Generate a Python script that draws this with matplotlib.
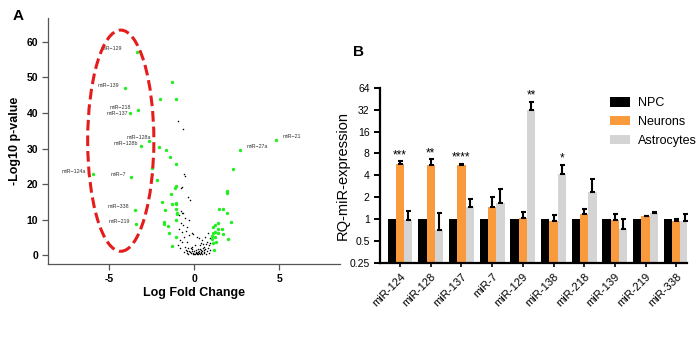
import numpy as np
import matplotlib
matplotlib.use('Agg')
import matplotlib.pyplot as plt
import matplotlib.transforms as mtrans
from matplotlib.patches import Ellipse, Patch

plt.rcParams['font.family'] = ['Liberation Sans', 'DejaVu Sans']
plt.rcParams['axes.unicode_minus'] = False

# ── Panel A data: volcano plot ─────────────────────────────────────
lab_names = ['miR\u2212129', 'miR\u2212139', 'miR\u2212218', 'miR\u2212137', 'miR\u2212128a',
             'miR\u2212128b', 'miR\u2212124a', 'miR\u22127', 'miR\u2212338', 'miR\u2212219',
             'miR\u221221', 'miR\u221227a']
lab_fc = [-3.35, -4.06, -3.31, -3.76, -2.68, -3.11, -5.98, -3.70, -3.47, -3.45, 4.83, 2.68]
lab_p = [57.3, 47.0, 40.8, 40.1, 32.1, 30.7, 22.7, 21.9, 12.7, 8.6, 32.4, 29.7]

green_fc = [-1.34, -2.03, -1.08, -2.09, -1.66, -1.42, -1.08, -2.49, -2.21, 2.27,
            -1.10, -1.16, -1.36, -1.91, -1.30, -1.08, -1.72, -1.08, -1.04, -1.79,
            -1.78, -1.57, -1.07, -1.48, -1.08, -1.30, 1.92, 1.95, 1.48, 1.72,
            1.95, 2.17, 1.38, 1.22, 1.12, 1.66, 1.40, 1.24, 1.09, 1.38,
            1.72, 1.05, 1.21, 1.99, 1.03, 1.30, 1.12, 1.18, -1.05, -1.0]
green_p = [48.7, 43.9, 44.0, 30.3, 29.7, 27.6, 25.5, 24.4, 21.0, 24.3,
           19.4, 18.8, 17.3, 14.8, 14.4, 14.4, 12.6, 12.9, 11.5, 9.4,
           8.7, 8.1, 9.9, 6.1, 5.2, 2.6, 18.0, 17.5, 13.0, 13.0,
           11.9, 9.2, 9.1, 8.4, 8.0, 7.4, 7.2, 6.6, 6.2, 6.1,
           5.8, 5.4, 5.1, 4.5, 4.4, 3.6, 3.5, 1.4, 14.6, 11.8]

black_fc = [-0.96, -0.67, -0.59, -0.55, -0.77, -0.36, -0.24, -0.80, -0.73, -0.65,
            -0.89, -0.55, -0.33, -0.80, -0.65, -0.45, -0.15, -0.09, -0.30, -0.61,
            -0.85, -0.73, -0.45, 0.14, 0.30, 0.44, 0.63, 0.73, 0.83, 0.93,
            0.89, 0.53, 0.36, 0.04, -0.15, -0.36, -0.55, -0.85, -0.95, -0.30,
            -0.25, -0.20, -0.15, -0.10, -0.05, 0.00, 0.00, 0.05, 0.08, 0.10,
            0.12, 0.15, 0.18, 0.20, 0.22, 0.25, 0.28, 0.30, 0.33, 0.35,
            0.38, 0.40, 0.42, 0.45, 0.48, 0.50, 0.55, 0.58, 0.60, 0.65,
            0.70, 0.75, 0.80, 0.85, -0.20, -0.40, -0.45, -0.50, -0.60, -0.35,
            -0.12, 0.90, 0.95, 0.60, 0.70, 0.40, -0.70, -0.50, -0.90, -0.71]
black_p = [37.8, 35.6, 22.8, 22.3, 18.8, 16.4, 15.4, 12.5, 11.9, 11.7,
           11.3, 10.3, 9.9, 8.9, 8.5, 8.0, 6.1, 6.0, 5.6, 5.2,
           4.2, 3.7, 3.7, 5.2, 4.7, 4.2, 5.2, 3.7, 6.1, 4.7,
           2.8, 3.1, 2.8, 2.8, 2.3, 1.9, 2.3, 1.9, 2.8, 1.2,
           0.8, 0.5, 1.0, 0.3, 0.7, 0.4, 1.1, 0.2, 0.6, 1.4,
           0.9, 0.3, 0.5, 1.6, 0.8, 0.2, 1.1, 0.5, 1.8, 0.3,
           0.9, 1.4, 0.6, 0.2, 1.0, 2.0, 0.5, 1.3, 0.8, 1.7,
           0.4, 1.1, 2.1, 0.7, 1.9, 1.0, 0.5, 1.5, 0.9, 0.3,
           1.6, 1.5, 3.3, 2.4, 3.0, 3.5, 6.5, 6.8, 7.2, 19.1]

# ── Panel B data: qPCR bars ────────────────────────────────────────
mirs = ['miR-124', 'miR-128', 'miR-137', 'miR-7', 'miR-129',
        'miR-138', 'miR-218', 'miR-139', 'miR-219', 'miR-338']
npc = [1, 1, 1, 1, 1, 1, 1, 1, 1, 1]
neurons = [5.8, 5.6, 5.5, 1.46, 1.03, 0.95, 1.17, 0.97, 1.10, 0.93]
neurons_err = [0.5, 1.1, 0.3, 0.57, 0.24, 0.18, 0.19, 0.19, 0.02, 0.07]
astro = [0.98, 0.71, 1.49, 1.68, 31.8, 4.2, 2.33, 0.72, 1.21, 0.93]
astro_err = [0.31, 0.51, 0.43, 0.93, 9.6, 1.4, 1.21, 0.28, 0.04, 0.23]
stars = ['***', '**', '****', '', '**', '*', '', '', '', '']
star_on_astro = [False, False, False, False, True, True, False, False, False, False]

C_NPC, C_NEU, C_AST = '#000000', '#f99b3c', '#d4d4d4'

fig = plt.figure(figsize=(7, 3.5), dpi=100)

# ── Panel A ────────────────────────────────────────────────────────
ax_a = fig.add_axes([0.069, 0.246, 0.417, 0.703])
ax_a.scatter(black_fc, black_p, s=1.2, color='black', linewidths=0, zorder=2)
ax_a.scatter(green_fc, green_p, s=6, color='#22ee22', linewidths=0, zorder=3)
ax_a.scatter(lab_fc, lab_p, s=6, color='#22ee22', linewidths=0, zorder=3)
ax_a.add_patch(Ellipse((-4.33, 32.2), 3.9, 62.3, fill=False, edgecolor='#e51c1c',
                       linestyle=(0, (3.5, 1.6)), linewidth=2.2, zorder=4))

offsets = [(-11, 2), (-4.6, 2.2), (-4.8, 1.9), (-1.7, -0.7), (1.4, 2.4), (-2.4, 1.9),
           (-4.8, 1.9), (-3.6, 2.2), (-4.6, 2.2), (-4.3, 1.9), (4.8, 2.2), (5.3, 1.9)]
for name, xv, yv, (dx, dy) in zip(lab_names, lab_fc, lab_p, offsets):
    ax_a.annotate(name, (xv, yv), xytext=(dx, dy), textcoords='offset points',
                  fontsize=3.8, color='#333333', va='center',
                  ha='left' if dx > 3 else 'right')

ax_a.set_xlim(-8.6, 8.6)
ax_a.set_ylim(-2.5, 66.8)
ax_a.set_xticks([-5, 0, 5])
ax_a.set_yticks([0, 10, 20, 30, 40, 50, 60])
for s in ('top', 'right'):
    ax_a.spines[s].set_visible(False)
for s in ('left', 'bottom'):
    ax_a.spines[s].set_color('#555555')
    ax_a.spines[s].set_linewidth(0.9)
ax_a.tick_params(direction='out', length=4, width=0.9, color='#555555', labelsize=7.5)
for t in ax_a.get_xticklabels() + ax_a.get_yticklabels():
    t.set_fontweight('bold')
ax_a.set_xlabel('Log Fold Change', fontsize=9, fontweight='bold', labelpad=2)
ax_a.set_ylabel('-Log10 p-value', fontsize=9, fontweight='bold', labelpad=4)
fig.text(0.018, 0.955, 'A', fontsize=11, fontweight='bold', va='center')

# ── Panel B ────────────────────────────────────────────────────────
ax_b = fig.add_axes([0.543, 0.249, 0.438, 0.5])
x = np.arange(len(mirs))
w = 0.27
ax_b.set_yscale('log', base=2)
ax_b.bar(x - w, npc, w, color=C_NPC, label='NPC')
ax_b.bar(x, neurons, w, color=C_NEU, label='Neurons',
         yerr=[np.zeros(len(x)), neurons_err], capsize=1.8,
         error_kw=dict(elinewidth=1.5, capthick=1.5, ecolor='black'))
ax_b.bar(x + w, astro, w, color=C_AST, label='Astrocytes',
         yerr=[np.zeros(len(x)), astro_err], capsize=1.8,
         error_kw=dict(elinewidth=1.5, capthick=1.5, ecolor='black'))

for i, st in enumerate(stars):
    if not st:
        continue
    if star_on_astro[i]:
        xs, ytop = x[i] + w, astro[i] + astro_err[i]
    else:
        xs, ytop = x[i], neurons[i] + neurons_err[i]
    ax_b.annotate(st, (xs, ytop), xytext=(0, 0), textcoords='offset points',
                  ha='center', va='bottom', fontsize=8.5)

ax_b.set_ylim(0.25, 64)
ax_b.set_xlim(-0.65, 9.34)
yt = [0.25, 0.5, 1, 2, 4, 8, 16, 32, 64]
ax_b.set_yticks(yt)
ax_b.set_yticklabels(['0.25', '0.5', '1', '2', '4', '8', '16', '32', '64'])
ax_b.minorticks_off()
ax_b.set_xticks(x)
ax_b.set_xticklabels(mirs, rotation=45, ha='right', rotation_mode='anchor', fontsize=8)
shift = mtrans.ScaledTranslation(4 / 100, 0, fig.dpi_scale_trans)
for t in ax_b.get_xticklabels():
    t.set_transform(t.get_transform() + shift)
for s in ('top', 'right'):
    ax_b.spines[s].set_visible(False)
for s in ('left', 'bottom'):
    ax_b.spines[s].set_linewidth(1.6)
ax_b.tick_params(axis='y', direction='out', length=4, width=1.4, labelsize=7.5)
ax_b.tick_params(axis='x', direction='out', length=3, width=1.2)
ax_b.set_ylabel('RQ-miR-expression', fontsize=10.5, labelpad=0)

handles = [Patch(facecolor=C_NPC), Patch(facecolor=C_NEU), Patch(facecolor=C_AST)]
fig.legend(handles, ['NPC', 'Neurons', 'Astrocytes'], loc='upper left',
           bbox_to_anchor=(0.871, 0.722), frameon=False, fontsize=9,
           handlelength=1.6, handleheight=0.75, handletextpad=0.7,
           labelspacing=0.55, borderpad=0, borderaxespad=0)
fig.text(0.505, 0.852, 'B', fontsize=11, fontweight='bold', va='center')

fig.savefig('out.png', dpi=100)
